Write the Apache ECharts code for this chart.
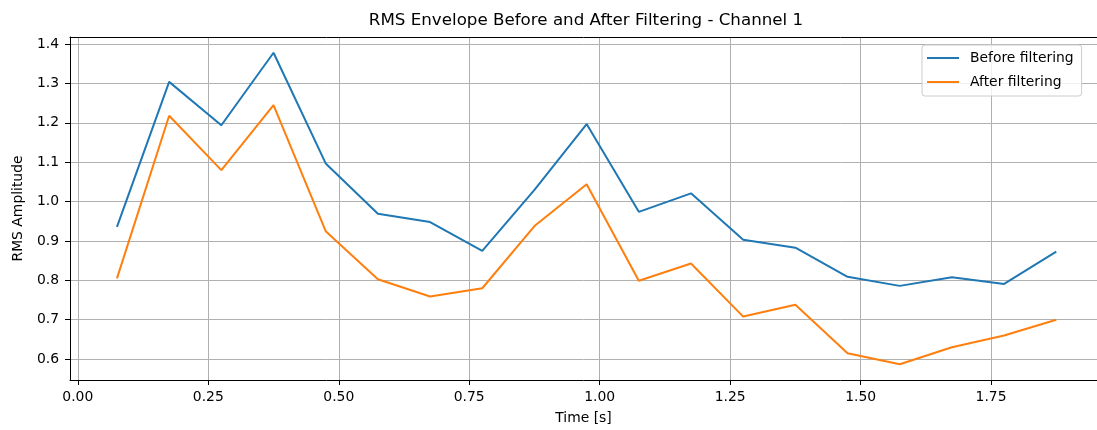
<!DOCTYPE html>
<html>
<head>
<meta charset="utf-8">
<script src="https://cdn.jsdelivr.net/npm/echarts@6/dist/echarts.min.js"></script>
<style>
  html, body { margin: 0; padding: 0; background: #fff; }
  #chart { width: 1097px; height: 430px; }
</style>
</head>
<body>
<div id="chart"></div>
<script>
const titleText = 'RMS Envelope Before and After Filtering - Channel 1';
const seriesNames = ['Before filtering', 'After filtering'];
const times = [0.075, 0.175, 0.275, 0.375, 0.475, 0.575, 0.675, 0.775, 0.875, 0.975,
               1.075, 1.175, 1.275, 1.375, 1.475, 1.575, 1.675, 1.775, 1.875];
const before = [0.936, 1.304, 1.194, 1.378, 1.097, 0.969, 0.948, 0.875, 1.030, 1.197,
                0.974, 1.021, 0.903, 0.883, 0.809, 0.786, 0.808, 0.791, 0.873];
const after = [0.805, 1.218, 1.080, 1.245, 0.925, 0.803, 0.759, 0.780, 0.938, 1.044,
               0.799, 0.843, 0.708, 0.738, 0.615, 0.587, 0.630, 0.660, 0.700];
const xTicks = [0.00, 0.25, 0.50, 0.75, 1.00, 1.25, 1.50, 1.75];
const yTicks = [0.6, 0.7, 0.8, 0.9, 1.0, 1.1, 1.2, 1.3, 1.4];

const font = 'DejaVu Sans';
const X_MIN = -0.015, X_MAX = 1.953;
const chart = echarts.init(document.getElementById('chart'), null, { renderer: 'canvas' });

chart.setOption({
  animation: false,
  backgroundColor: '#ffffff',
  title: {
    text: titleText,
    left: 586,
    top: 12,
    padding: 0,
    textAlign: 'center',
    textStyle: { fontFamily: font, fontSize: 16.7, fontWeight: 'normal', color: '#000' }
  },
  legend: {
    orient: 'vertical',
    left: 922,
    top: 45,
    padding: [5, 8, 6, 5],
    itemGap: 8,
    itemWidth: 32,
    itemHeight: 2,
    icon: 'rect',
    borderColor: '#cccccc',
    borderWidth: 1,
    borderRadius: 3,
    backgroundColor: 'rgba(255,255,255,0.8)',
    textStyle: { fontFamily: font, fontSize: 13.9, color: '#000', lineHeight: 16, padding: [0, 0, 0, 6] },
    data: seriesNames
  },
  grid: {
    left: 70,
    top: 37,
    right: 0,
    bottom: 49,
    show: false,
    containLabel: false
  },
  xAxis: [{
    type: 'value',
    min: X_MIN,
    max: X_MAX,
    name: 'Time [s]',
    nameLocation: 'middle',
    nameGap: 31,
    nameTextStyle: { fontFamily: font, fontSize: 13.9, color: '#000' },
    axisLine: { show: true, onZero: false, lineStyle: { color: '#000', width: 1 } },
    axisTick: { show: true, length: 5, customValues: xTicks, lineStyle: { color: '#000', width: 1 } },
    axisLabel: {
      customValues: xTicks,
      formatter: v => v.toFixed(2),
      margin: 10,
      fontFamily: font, fontSize: 13.9, color: '#000'
    },
    splitLine: { show: true, lineStyle: { color: '#b0b0b0', width: 1 } }
  }, {
    type: 'value',
    position: 'top',
    min: X_MIN,
    max: X_MAX,
    axisLine: { show: true, onZero: false, lineStyle: { color: '#000', width: 1 } },
    axisTick: { show: false },
    axisLabel: { show: false },
    splitLine: { show: false }
  }],
  yAxis: {
    type: 'value',
    min: 0.547,
    max: 1.418,
    name: 'RMS Amplitude',
    nameLocation: 'middle',
    nameRotate: 90,
    nameGap: 45,
    nameTextStyle: { fontFamily: font, fontSize: 13.9, color: '#000' },
    axisLine: { show: true, onZero: false, lineStyle: { color: '#000', width: 1 } },
    axisTick: { show: true, length: 5, customValues: yTicks, lineStyle: { color: '#000', width: 1 } },
    axisLabel: {
      customValues: yTicks,
      formatter: v => v.toFixed(1),
      margin: 11,
      fontFamily: font, fontSize: 13.9, color: '#000'
    },
    splitLine: { show: true, lineStyle: { color: '#b0b0b0', width: 1 } }
  },
  series: [
    {
      name: seriesNames[0],
      type: 'line',
      symbol: 'none',
      color: '#1f77b4',
      lineStyle: { color: '#1f77b4', width: 2 },
      data: times.map((t, i) => [t, before[i]])
    },
    {
      name: seriesNames[1],
      type: 'line',
      symbol: 'none',
      color: '#ff7f0e',
      lineStyle: { color: '#ff7f0e', width: 2 },
      data: times.map((t, i) => [t, after[i]])
    }
  ]
});
</script>
</body>
</html>
